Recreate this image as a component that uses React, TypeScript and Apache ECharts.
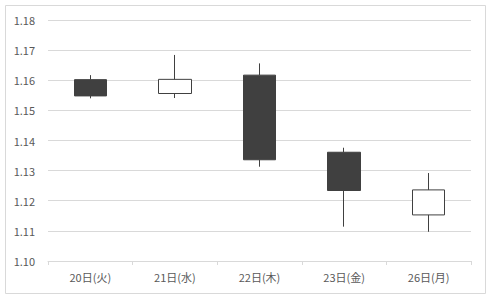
import React, { useEffect, useRef } from "react";
import * as echarts from "echarts";

// Daily candles: open, close, low, high
const days = ["20日(火)", "21日(水)", "22日(木)", "23日(金)", "26日(月)"];
const opens = [1.1602, 1.1556, 1.1617, 1.1361, 1.1153];
const closes = [1.1548, 1.1603, 1.1336, 1.1234, 1.1236];
const lows = [1.154, 1.1541, 1.1313, 1.1114, 1.1097];
const highs = [1.1617, 1.1684, 1.1656, 1.1376, 1.1292];

const yMin = 1.1;
const yMax = 1.18;
const yStep = 0.01;

const textColor = "#595959";
const lineColor = "#d9d9d9";
const candleColor = "#404040";
const font = "'Noto Sans CJK JP', 'Noto Sans', sans-serif";

export default function App() {
  const ref = useRef<HTMLDivElement>(null);

  useEffect(() => {
    if (!ref.current) return;
    const chart = echarts.init(ref.current, undefined, { renderer: "svg" });
    const data = days.map((_, i) => [opens[i], closes[i], lows[i], highs[i]]);
    chart.setOption({
      animation: false,
      backgroundColor: "#ffffff",
      graphic: [
        {
          type: "rect",
          shape: { x: 5.5, y: 5.5, width: 480, height: 288 },
          style: { fill: "none", stroke: lineColor, lineWidth: 1 },
          silent: true,
        },
      ],
      grid: { left: 48, right: 26, top: 20, bottom: 41 },
      xAxis: {
        type: "category",
        data: days,
        boundaryGap: true,
        axisLine: { lineStyle: { color: lineColor, width: 1 } },
        axisTick: { show: true, length: 4, lineStyle: { color: lineColor } },
        axisLabel: { color: textColor, fontSize: 11, fontFamily: font, margin: 10 },
        splitLine: { show: false },
      },
      yAxis: {
        type: "value",
        min: yMin,
        max: yMax,
        interval: yStep,
        axisLine: { show: false },
        axisTick: { show: false },
        axisLabel: {
          color: textColor,
          fontSize: 11,
          fontFamily: font,
          margin: 13,
          formatter: (v: number) => v.toFixed(2),
        },
        splitLine: { lineStyle: { color: lineColor, width: 1 } },
      },
      series: [
        {
          type: "candlestick",
          data,
          barWidth: 33,
          itemStyle: {
            color: "#ffffff",
            color0: candleColor,
            borderColor: candleColor,
            borderColor0: candleColor,
            borderWidth: 1,
          },
        },
      ],
    });
    return () => chart.dispose();
  }, []);

  return (
    <div
      ref={ref}
      style={{ position: "absolute", left: 0, top: 0, width: 497, height: 302 }}
    />
  );
}
